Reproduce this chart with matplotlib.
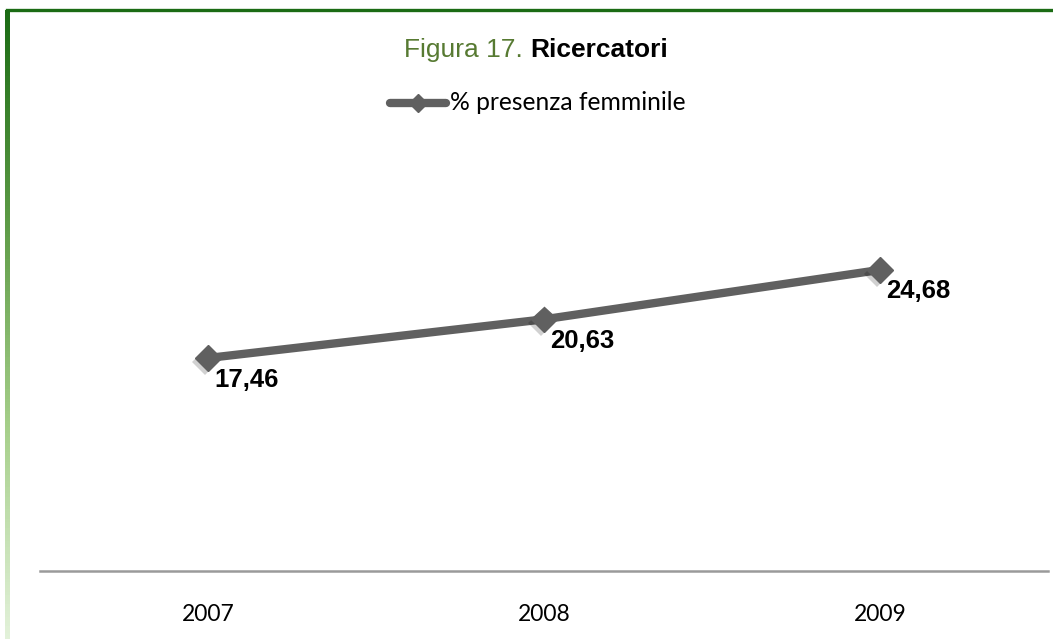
import numpy as np
import matplotlib
matplotlib.use("Agg")
import matplotlib.pyplot as plt
import matplotlib.patheffects as pe
from matplotlib.collections import LineCollection
from matplotlib.colors import LinearSegmentedColormap
from matplotlib.lines import Line2D

# dati
anni = ["2007", "2008", "2009"]
presenza_femminile = [17.46, 20.63, 24.68]
etichette = ["17,46", "20,63", "24,68"]
serie = "% presenza femminile"

W, H = 1053, 639
fig = plt.figure(figsize=(W / 100, H / 100), dpi=100)

# area del grafico
ax = fig.add_axes([40 / W, (H - 571) / H, (1048 - 40) / W, (571 - 205) / H])
ax.set_xlim(-0.5, 2.5)
ax.set_ylim(0, 30)
x = np.arange(len(anni))
grigio = "#606060"
ax.plot(x, presenza_femminile, color=grigio, lw=6, solid_capstyle="round", zorder=2)
ax.plot(x, presenza_femminile, ls="none", marker="D", markersize=13, color=grigio,
        markeredgecolor=grigio, zorder=3,
        path_effects=[pe.SimplePatchShadow(offset=(-2, -3), shadow_rgbFace="#000000", alpha=0.18),
                      pe.Normal()])
for xi, yi, lab in zip(x, presenza_femminile, etichette):
    ax.annotate(lab, (xi, yi), xytext=(4.5, -15.5), textcoords="offset points",
                ha="left", va="center", fontsize=18.5, fontweight="bold",
                family="Liberation Sans", color="black")

for s in ["left", "right", "top"]:
    ax.spines[s].set_visible(False)
ax.spines["bottom"].set_color("#9a9a9a")
ax.spines["bottom"].set_linewidth(1.8)
ax.set_yticks([])
ax.set_xticks(x)
ax.set_xticklabels(anni, family="Lato", fontsize=16.5)
ax.tick_params(axis="x", length=0, pad=24)

# titolo
fig.text(530 / W, 1 - 50 / H, "Figura 17. ", ha="right", va="center", fontsize=19,
         family="Liberation Sans", color="#577a32")
fig.text(530 / W, 1 - 50 / H, "Ricercatori", ha="left", va="center", fontsize=19,
         family="Liberation Sans", fontweight="bold", color="black")

# legenda
fig.add_artist(Line2D([390 / W, 446 / W], [1 - 103 / H] * 2, color=grigio, lw=6,
                      solid_capstyle="round", transform=fig.transFigure))
fig.add_artist(Line2D([418 / W], [1 - 103 / H], marker="D", markersize=9, color=grigio,
                      transform=fig.transFigure))
fig.text(450 / W, 1 - 103 / H, serie, ha="left", va="center", fontsize=17.7,
         family="Lato", color="black")

# cornice verde
fig.add_artist(Line2D([6.5 / W, 1], [1 - 9.5 / H] * 2, color="#1b6b14", lw=2.4,
                      transform=fig.transFigure))
cm = LinearSegmentedColormap.from_list("bordo", ["#1b6b14", "#5c9a45", "#a6cf8a", "#e2f1d9"])
ys = np.linspace(1 - 9.5 / H, 0, 200)
segs = [[(6.5 / W, ys[i]), (6.5 / W, ys[i + 1])] for i in range(len(ys) - 1)]
lc = LineCollection(segs, colors=cm(np.linspace(0, 1, len(segs))), linewidths=2.2,
                    capstyle="butt", antialiased=False, transform=fig.transFigure)
fig.add_artist(lc)

fig.savefig("out.png", dpi=100)
